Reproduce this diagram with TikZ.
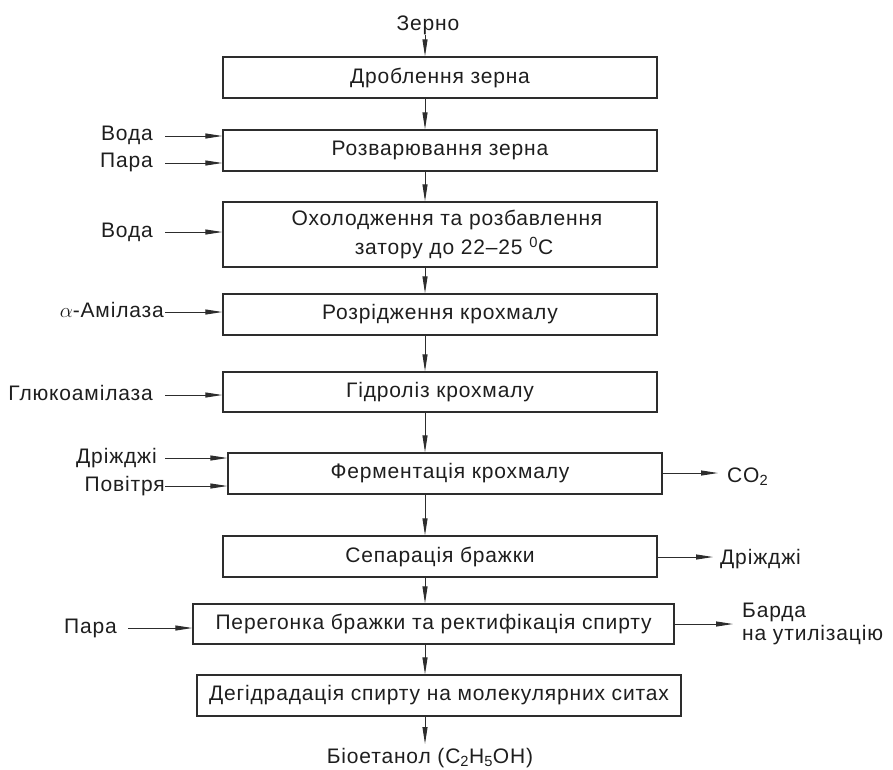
\documentclass[tikz,border=0pt]{standalone}
\usepackage{fontspec}
\setmainfont[LetterSpace=4]{Liberation Sans}
\usetikzlibrary{arrows.meta}
\definecolor{ln}{RGB}{45,45,45}
\definecolor{tx}{RGB}{30,30,30}
\newcommand{\diagfont}{\fontsize{21}{29}\selectfont}
\begin{document}
\begin{tikzpicture}[x=1pt,y=-1pt,
  box/.style={draw=ln,line width=1.3pt,rectangle,inner sep=0pt,font=\diagfont,text=tx,align=center},
  lbl/.style={inner sep=0pt,font=\diagfont,text=tx},
  arr/.style={draw=ln,line width=1pt,-{Triangle[length=17pt,width=5pt]}}]
\useasboundingbox (0,0) rectangle (893,769);
% process boxes
\node[box,minimum width=434pt,minimum height=41pt] (b1) at (440,77.5) {Дроблення зерна};
\node[box,minimum width=434pt,minimum height=41pt] (b2) at (440,150.5) {Розварювання зерна};
\node[box,minimum width=434pt,minimum height=65pt] (b3) at (440,234.5) {\hspace*{14pt}Охолодження та розбавлення\\ \hspace*{28pt}затору до 22–25 \textsuperscript{0}C};
\node[box,minimum width=434pt,minimum height=41pt] (b4) at (440,314.5) {Розрідження крохмалу};
\node[box,minimum width=434pt,minimum height=40pt] (b5) at (440,392) {Гідроліз крохмалу};
\node[box,minimum width=434pt,minimum height=41pt] (b6) at (445,473.5) {\hspace*{10pt}Ферментація крохмалу};
\node[box,minimum width=434pt,minimum height=41pt] (b7) at (440,556.5) {Сепарація бражки};
\node[box,minimum width=481pt,minimum height=40pt] (b8) at (433.5,624) {Перегонка бражки та ректифікація спирту};
\node[box,minimum width=484pt,minimum height=41pt] (b9) at (439,695.5) {Дегідрадація спирту на молекулярних ситах};
% top and bottom
\node[lbl,anchor=base] (zerno) at (428,30) {Зерно};
\coordinate (zs) at (425,35);
\node[lbl,anchor=base] (bio) at (430,763) {Біоетанол (C\textsubscript{2}H\textsubscript{5}OH)};
\coordinate (be) at (425,744);
\draw[arr] (zs) -- (zs |- b1.north);
\foreach \a/\b in {b1/b2,b2/b3,b3/b4,b4/b5,b5/b6,b6/b7,b7/b8,b8/b9}
  \draw[arr] (zs |- \a.south) -- (zs |- \b.north);
\draw[arr] (zs |- b9.south) -- (be);
% left inputs
\node[lbl,anchor=base east] (voda1) at (153,140) {Вода};
\node[lbl,anchor=base east] (para1) at (153,167) {Пара};
\node[lbl,anchor=base east] (voda2) at (153,237) {Вода};
\node[lbl,anchor=base east] (amil) at (164,317) {$\alpha$-Амілаза};
\node[lbl,anchor=base east] (gluk) at (153,400) {Глюкоамілаза};
\node[lbl,anchor=base east] (droz) at (157,463) {Дріжджі};
\node[lbl,anchor=base east] (povit) at (165,491) {Повітря};
\node[lbl,anchor=base east] (para2) at (117,633) {Пара};
\coordinate (s1) at (165,136);
\coordinate (s2) at (165,163);
\coordinate (s3) at (165,232);
\coordinate (s4) at (165,312);
\coordinate (s5) at (165,395);
\coordinate (s6) at (165,458);
\coordinate (s7) at (165,486);
\coordinate (s8) at (128,628);
\draw[arr] (s1) -- (s1 -| b2.west);
\draw[arr] (s2) -- (s2 -| b2.west);
\draw[arr] (s3) -- (s3 -| b3.west);
\draw[arr] (s4) -- (s4 -| b4.west);
\draw[arr] (s5) -- (s5 -| b5.west);
\draw[arr] (s6) -- (s6 -| b6.west);
\draw[arr] (s7) -- (s7 -| b6.west);
\draw[arr] (s8) -- (s8 -| b8.west);
% right outputs
\node[lbl,anchor=base west] (co2) at (727,482) {CO\textsubscript{2}};
\node[lbl,anchor=base west] (droz2) at (720,564) {Дріжджі};
\node[lbl,anchor=base west] (barda) at (742,617) {Барда};
\node[lbl,anchor=base west] (util) at (742,640) {на утилізацію};
\coordinate (e1) at (718,473);
\coordinate (e2) at (713,557);
\coordinate (e3) at (733,624);
\draw[arr] (e1 -| b6.east) -- (e1);
\draw[arr] (e2 -| b7.east) -- (e2);
\draw[arr] (e3 -| b8.east) -- (e3);
\end{tikzpicture}
\end{document}
